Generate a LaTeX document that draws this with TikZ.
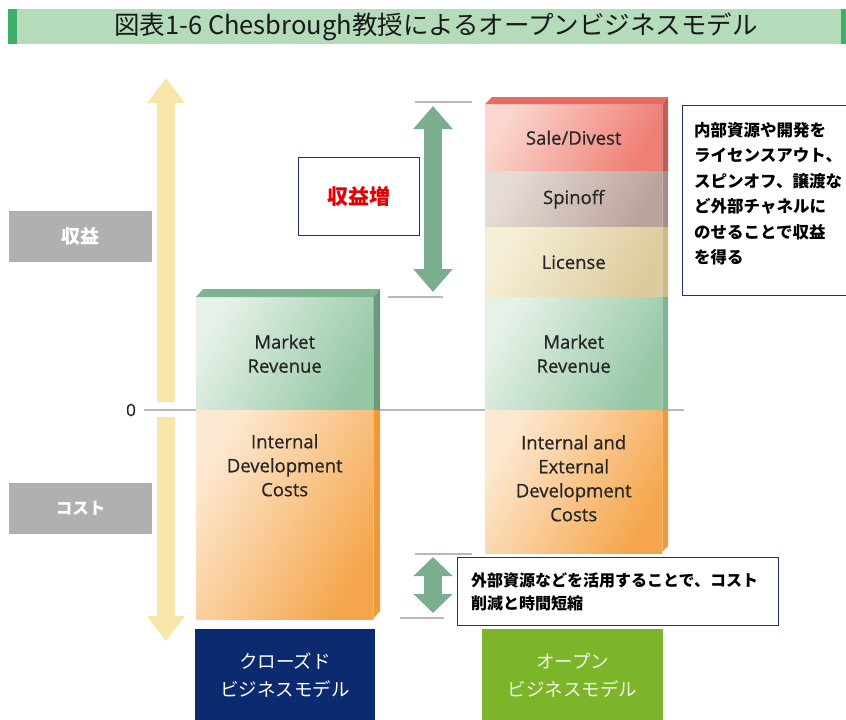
\documentclass[tikz,border=0pt]{standalone}
\usepackage{fontspec}
\setmainfont{Open Sans}
\newfontfamily\blockfont{Open Sans}[FakeBold=0.7]
\newfontfamily\jp{Noto Sans CJK JP}
\usetikzlibrary{arrows.meta}
\definecolor{barbg}{HTML}{B4DCBA}
\definecolor{barstrip}{HTML}{3DAE6A}
\definecolor{yel}{HTML}{F8E6A8}
\definecolor{garr}{HTML}{7AAE8F}
\definecolor{navy}{HTML}{23306A}
\definecolor{closedbg}{HTML}{0B2A6F}
\definecolor{openbg}{HTML}{7DB52A}
\definecolor{graybox}{HTML}{B0B0B0}
\definecolor{refline}{HTML}{B8B8B8}
\definecolor{grnL}{HTML}{E6F1E8}\definecolor{grnR}{HTML}{95C7A5}\definecolor{grnD}{HTML}{7FB391}
\definecolor{orL}{HTML}{FDE9D2}\definecolor{orR}{HTML}{F5A64C}\definecolor{orD}{HTML}{EE9A3A}
\definecolor{rdL}{HTML}{FAD6CE}\definecolor{rdR}{HTML}{EF7E74}\definecolor{rdD}{HTML}{E66C62}
\definecolor{spL}{HTML}{E6DCD6}\definecolor{spR}{HTML}{BBA39C}\definecolor{spD}{HTML}{A78F88}
\definecolor{liL}{HTML}{F6EFD8}\definecolor{liR}{HTML}{DCCB9C}\definecolor{liD}{HTML}{CDBA86}
\tikzset{
  face/.style={inner sep=0, anchor=north west, align=center, text=black!85,
    font=\blockfont\fontsize{18.5}{24}\selectfont},
  graylabel/.style={fill=graybox, inner sep=0, anchor=north west, minimum width=143pt,
    minimum height=51pt, text=white, font=\jp\bfseries\fontsize{19}{20}\selectfont},
  modelbox/.style={inner sep=0, anchor=north west, align=center,
    font=\jp\fontsize{18.5}{28}\selectfont},
  notebox/.style={draw=navy, line width=1pt, fill=white, inner sep=0, anchor=north west},
  notetext/.style={inner sep=0, anchor=north west, align=left, text=black},
  yarrow/.style={yel, line width=18pt, -{Triangle[width=36pt,length=25pt]}},
  garrow/.style={garr, line width=18pt, {Triangle[width=38pt,length=23pt]}-{Triangle[width=38pt,length=23pt]}},
  garrowsmall/.style={garr, line width=18pt, {Triangle[width=38pt,length=19pt]}-{Triangle[width=38pt,length=19pt]}},
  ref/.style={refline, line width=1.3pt},
  sh/.style={shading angle=60},
}
\begin{document}
\begin{tikzpicture}[x=1pt,y=-1pt]
\clip (0,0) rectangle (846,720);
\fill[white] (0,0) rectangle (846,720);

% title bar
\node[fill=barbg, inner sep=0, anchor=north west, minimum width=838pt, minimum height=35pt] (bar) at (8,9) {};
\fill[barstrip] (bar.north west) rectangle ([xshift=9pt]bar.south west);
\fill[barstrip] ([xshift=-5pt]bar.north east) rectangle (bar.south east);
\node[inner sep=0, font=\jp\fontsize{25.5}{28}\selectfont, text=black!90] (title) at (436,27) {図表1-6 Chesbrough教授によるオープンビジネスモデル};

% gray side labels
\node[graylabel] (rev) at (9,211) {収益};
\node[graylabel, font=\jp\bfseries\fontsize{16.5}{20}\selectfont] (cost) at (9,483) {コスト};

% zero line
\node[inner sep=0, font=\blockfont\fontsize{17}{20}\selectfont, text=black!85] (zero) at (131,410) {0};
\coordinate (zr) at (684,410);
\draw[refline, line width=1.5pt] ([xshift=8pt]zero.east) -- (zr);

% yellow arrows
\coordinate (yu1) at (166,402); \coordinate (yu2) at (166,78);
\coordinate (yd1) at (166,417); \coordinate (yd2) at (166,641);
\draw[yarrow] (yu1) -- (yu2);
\draw[yarrow] (yd1) -- (yd2);

% ---------- closed model column ----------
\node[face, minimum width=177pt, minimum height=113pt, left color=grnL, right color=grnR, sh] (cmr) at (196,297) {Market\\Revenue};
\fill[grnD] (196,297) -- (203,289) -- (380,289) -- (cmr.north east) -- cycle;
\fill[grnD!85!black] (cmr.north east) -- (380,289) -- (380,410) -- (cmr.south east) -- cycle;
\node[face, minimum width=177pt, minimum height=209pt, left color=orL, right color=orR, sh] (cic) at (196,410) {};
\node[face, anchor=north] (cictxt) at ([yshift=-24pt]cic.north) {Internal\\Development\\Costs};
\fill[orD] (cic.north east) -- (380,410) -- (380,611) -- (373,619) -- (cic.south east) -- cycle;

\node[modelbox, fill=closedbg, text=white, minimum width=180pt, minimum height=92pt] (closed) at (195,629) {クローズド\\ビジネスモデル};

% ---------- open model column ----------
\node[face, minimum width=177pt, minimum height=67pt, left color=rdL, right color=rdR, sh] (sale) at (485,104) {Sale/Divest};
\fill[rdD] (485,104) -- (492,97) -- (668,97) -- (sale.north east) -- cycle;
\node[face, minimum width=177pt, minimum height=56pt, left color=spL, right color=spR, sh] (spin) at (485,171) {Spinoff};
\node[face, minimum width=177pt, minimum height=70pt, left color=liL, right color=liR, sh] (lic) at (485,227) {License};
\node[face, minimum width=177pt, minimum height=113pt, left color=grnL, right color=grnR, sh] (omr) at (485,297) {Market\\Revenue};
\node[face, minimum width=177pt, minimum height=143pt, left color=orL, right color=orR, sh] (oic) at (485,410) {};
\node[face, anchor=north] (oictxt) at ([yshift=-25pt]oic.north) {Internal and\\External\\Development\\Costs};
\fill[rdD!85!black] (sale.north east) -- (668,97) -- (668,171) -- (sale.south east) -- cycle;
\fill[spD] (spin.north east) -- (668,171) -- (668,227) -- (spin.south east) -- cycle;
\fill[liD] (lic.north east) -- (668,227) -- (668,297) -- (lic.south east) -- cycle;
\fill[grnD] (omr.north east) -- (668,297) -- (668,410) -- (omr.south east) -- cycle;
\fill[orD] (oic.north east) -- (668,410) -- (668,546) -- (661,553) -- (oic.south east) -- cycle;

\node[modelbox, fill=openbg, text=white!90!openbg, minimum width=181pt, minimum height=92pt] (open) at (482,629) {オープン\\ビジネスモデル};

% ---------- revenue increase arrow ----------
\coordinate (rt1) at (415,102); \coordinate (rt2) at (472,102);
\coordinate (rb1) at (388,297); \coordinate (rb2) at (443,297);
\draw[ref] (rt1) -- (rt2);
\draw[ref] (rb1) -- (rb2);
\coordinate (ga1) at (433,106); \coordinate (ga2) at (433,292);
\draw[garrow] (ga1) -- (ga2);

\node[notebox, minimum width=121pt, minimum height=78pt] (inc) at (298,157) {};
\node[inner sep=0, text=red!90!black, font=\jp\bfseries\fontsize{21}{24}\selectfont] (inctxt) at (inc.center) {収益増};

% ---------- right note ----------
\node[notebox, minimum width=180pt, minimum height=190pt] (note) at (682,105) {};
\node[notetext, font=\jp\bfseries\fontsize{16.5}{25.5}\selectfont] (notetxt) at (694,122) {内部資源や開発を\\ライセンスアウト、\\スピンオフ、譲渡な\\ど外部チャネルに\\のせることで収益\\を得る};

% ---------- cost reduction arrow ----------
\coordinate (ct1) at (415,554); \coordinate (ct2) at (472,554);
\coordinate (cb1) at (400,618); \coordinate (cb2) at (444,618);
\draw[ref] (ct1) -- (ct2);
\draw[ref] (cb1) -- (cb2);
\coordinate (gs1) at (433,557); \coordinate (gs2) at (433,613);
\draw[garrowsmall] (gs1) -- (gs2);

\node[notebox, minimum width=321pt, minimum height=68pt] (cnote) at (457,557) {};
\node[notetext, font=\jp\bfseries\fontsize{16}{23}\selectfont] (cnotetxt) at (471,573) {外部資源などを活用することで、コスト\\削減と時間短縮};
\end{tikzpicture}
\end{document}
